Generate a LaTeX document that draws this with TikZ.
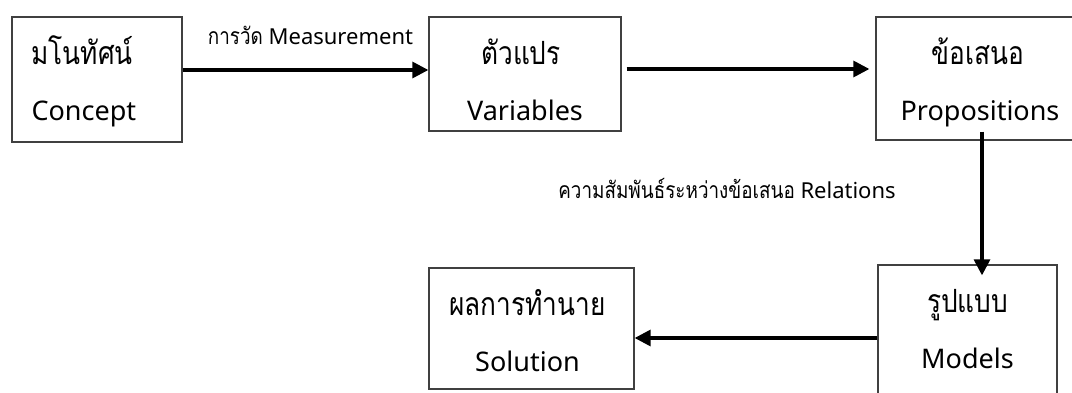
\documentclass[tikz,border=0pt]{standalone}
\usepackage{fontspec}
\setmainfont{Noto Sans}
\newfontfamily\thaif[Script=Thai,FakeStretch=0.82]{Loma}
\usetikzlibrary{arrows.meta,calc}
\begin{document}
\begin{tikzpicture}[x=1pt,y=1pt,
  box/.style={draw=black!75,line width=1.3pt,rectangle,inner sep=0pt},
  txt/.style={inner sep=0pt,anchor=base,font=\fontsize{27}{30}\selectfont},
  thai/.style={inner sep=0pt,anchor=base,font=\fontsize{32}{34}\selectfont\thaif},
  lbl/.style={inner sep=0pt,anchor=base,font=\fontsize{22}{25}\selectfont},
  arr/.style={line width=3.2pt,-{Triangle[length=16pt,width=16pt]}}]
\useasboundingbox (0,0) rectangle (1072,392);
% boxes
\node[box,minimum width=170pt,minimum height=125pt] (b1) at (97,312.5) {};
\node[box,minimum width=192pt,minimum height=114pt] (b2) at (525,318) {};
\node[box,minimum width=200pt,minimum height=123pt] (b3) at (976,313.5) {};
\node[box,minimum width=179pt,minimum height=135pt] (b4) at (967.5,59.5) {};
\node[box,minimum width=205pt,minimum height=121pt] (b5) at (531.5,63.5) {};
% texts
\node[thai,anchor=base west] (t1a) at ($(b1.north west)+(20,-48)$) {มโนทัศน์};
\node[txt,anchor=base west] (t1b) at ($(b1.north west)+(20,-104)$) {Concept};
\node[thai] (t2a) at ($(b2.north)+(-4,-48)$) {ตัวแปร};
\node[txt] (t2b) at ($(b2.north)+(0,-104)$) {Variables};
\node[thai] (t3a) at ($(b3.north)+(2,-48)$) {ข้อเสนอ};
\node[txt] (t3b) at ($(b3.north)+(4,-104)$) {Propositions};
\node[thai] (t4a) at ($(b4.north)+(0,-48)$) {รูปแบบ};
\node[txt] (t4b) at ($(b4.north)+(0,-104)$) {Models};
\node[thai] (t5a) at ($(b5.north)+(-4,-48)$) {ผลการทำนาย};
\node[txt] (t5b) at ($(b5.north)+(-4,-104)$) {Solution};
% labels
\node[lbl] (l1) at (310.5,347) {{\thaif\fontsize{23}{25}\selectfont การวัด} Measurement};
\node[lbl] (l2) at (727,194) {{\thaif\fontsize{23}{25}\selectfont ความสัมพันธ์ระหว่างข้อเสนอ} Relations};
% connectors
\coordinate (a2s) at ($(b2.east|-0,323)+(5,0)$);
\coordinate (a2e) at ($(b3.west|-0,323)+(-6,0)$);
\coordinate (a3s) at ($(b3.south)+(6,9)$);
\coordinate (a3e) at ($(b4.north-|a3s)+(0,-11)$);
\draw[arr] (b1.east|-0,322) -- (b2.west|-0,322);
\draw[arr] (a2s) -- (a2e);
\draw[arr] (a3s) -- (a3e);
\draw[arr] (b4.west|-0,54) -- (b5.east|-0,54);
\end{tikzpicture}
\end{document}
